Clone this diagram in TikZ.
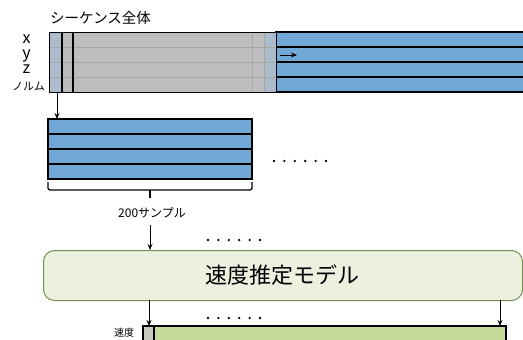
\documentclass[tikz,border=0pt]{standalone}
\usepackage{fontspec}
\setmainfont{Noto Sans CJK JP}
\usetikzlibrary{arrows.meta}
\definecolor{rowblue}{RGB}{114,168,214}
\definecolor{wingray}{RGB}{190,190,190}
\definecolor{wingrayl}{RGB}{188,188,188}
\definecolor{bluegray}{RGB}{172,188,204}
\definecolor{faint}{RGB}{166,166,166}
\definecolor{modelfill}{RGB}{235,241,222}
\definecolor{modeldraw}{RGB}{118,140,84}
\definecolor{outgreen}{RGB}{197,218,155}
\definecolor{outgray}{RGB}{200,202,192}
\tikzset{
  rowbox/.style={fill=rowblue,draw=black,line width=1.4pt},
  arr/.style={draw=black,line width=0.9pt,-{Stealth[length=6pt,width=5pt]}},
  dotmark/.style={circle,fill=black,inner sep=0pt,minimum size=2.6pt},
  lbl/.style={inner sep=0pt,font=\fontsize{#1}{#1}\selectfont},
}
\begin{document}
\begin{tikzpicture}[x=1pt,y=-1pt]
\useasboundingbox (0,0) rectangle (523,340);
% full sequence rows (blue)
\foreach \i in {0,1,2,3}{
  \draw[rowbox] (276,{32+15*\i}) rectangle (530,{47+15*\i});
}
% gray window region
\fill[wingray] (49,32) rectangle (276,92);
\fill[bluegray] (49,32) rectangle (62,92);
\fill[wingrayl] (62,32) rectangle (73,92);
\fill[bluegray] (264,32) rectangle (276,92);
\foreach \yy in {47,62,77}{
  \draw[faint,line width=1pt] (49,\yy) -- (276,\yy);
}
\draw[faint,line width=1pt] (252,32) -- (252,92);
\draw[faint,line width=1pt] (264,32) -- (264,92);
\draw[black,line width=1.4pt] (62,32) -- (62,92);
\draw[black,line width=1.4pt] (73,32) -- (73,92);
\node[draw=black,line width=1.4pt,minimum width=227pt,minimum height=60pt,inner sep=0pt,anchor=north west] (seq) at (49,32) {};
% labels
\node[lbl=14.5,anchor=west] (title) at (50,18) {シーケンス全体};
\node[lbl=16,anchor=base] (lx) at (26.5,43) {x};
\node[lbl=16,anchor=base] (ly) at (26.5,58) {y};
\node[lbl=16,anchor=base] (lz) at (26.5,73) {z};
\node[lbl=11,anchor=base east] (ln) at (45,90) {ノルム};
% small arrow in row
\coordinate (sa) at (280,55);
\coordinate (sb) at (297,55);
\draw[arr] (sa) -- (sb);
% window block
\foreach \i in {0,1,2,3}{
  \draw[rowbox] (48,{119+15*\i}) rectangle (252,{134+15*\i});
}
\node[inner sep=0pt,minimum width=204pt,minimum height=60pt,anchor=north west] (win) at (48,119) {};
\coordinate (a1) at (57,92);
\coordinate (a2) at (57,119);
\draw[arr] (a1) -- (a2);
% dots
\foreach \k in {0,...,5}{
  \node[dotmark] (d1\k) at ({274+10.4*\k},161) {};
  \node[dotmark] (d2\k) at ({208+10.4*\k},240) {};
  \node[dotmark] (d3\k) at ({208+10.4*\k},318) {};
}
% bracket
\draw[line width=1.2pt,rounded corners=2pt] (48,182) -- (48,190) -- (252,190) -- (252,182);
\coordinate (bm) at (150,190);
\coordinate (bt) at (150,198);
\draw[line width=1.2pt] (bm) -- (bt);
\node[lbl=12] (samp) at (152,213) {200サンプル};
% model
\node[draw=modeldraw,fill=modelfill,line width=1pt,rounded corners=11pt,minimum width=479pt,minimum height=50pt,anchor=north west,inner sep=0pt] (model) at (43,250) {};
\node[lbl=22] (mtext) at (282,275) {速度推定モデル};
\coordinate (m1) at (150,225);
\coordinate (m2) at (150,250);
\draw[arr] (m1) -- (m2);
\coordinate (o1a) at (149,300);
\coordinate (o1b) at (149,326);
\coordinate (o2a) at (500,300);
\coordinate (o2b) at (500,326);
\draw[arr] (o1a) -- (o1b);
\draw[arr] (o2a) -- (o2b);
% output
\draw[fill=outgreen,line width=1.4pt] (154,326) rectangle (506,350);
\draw[fill=outgray,line width=1.4pt] (143,326) rectangle (154,350);
\node[lbl=10] (speed) at (124,333) {速度};
\end{tikzpicture}
\end{document}
